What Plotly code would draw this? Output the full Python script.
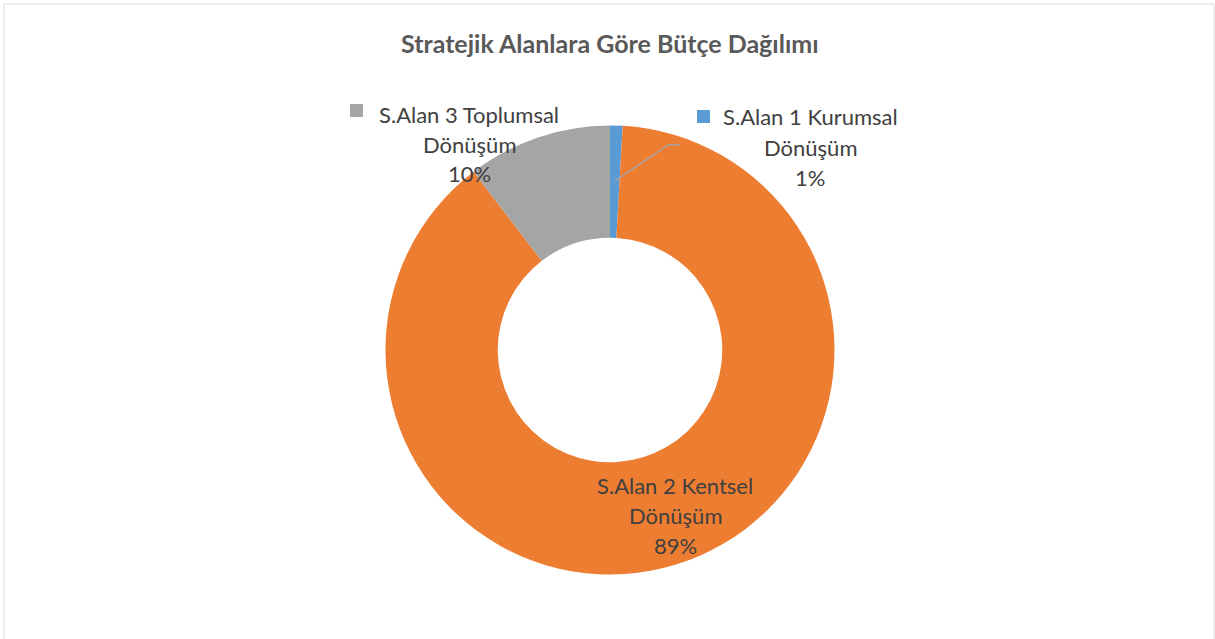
import plotly.graph_objects as go

W, H = 1215, 639

title = "Stratejik Alanlara Göre Bütçe Dağılımı"
categories = ["S.Alan 1 Kurumsal Dönüşüm", "S.Alan 2 Kentsel Dönüşüm", "S.Alan 3 Toplumsal Dönüşüm"]
label_line1 = ["S.Alan 1 Kurumsal", "S.Alan 2 Kentsel", "S.Alan 3 Toplumsal"]
label_line2 = ["Dönüşüm", "Dönüşüm", "Dönüşüm"]
values = [0.9, 88.7, 10.4]
colors = ["#5B9BD5", "#ED7D31", "#A5A5A5"]

# label layout (pixel positions of text blocks)
label_cx = [810, 675, 469]
label_y0 = [117, 485, 114]
line_gap = 30

cx, cy, r = 610, 350, 224.5

def px(x):
    return x / W

def py(y):
    return 1 - y / H

fig = go.Figure()
fig.add_trace(go.Pie(
    labels=categories,
    values=values,
    hole=0.5,
    sort=False,
    direction="clockwise",
    rotation=0,
    marker=dict(colors=colors, line=dict(color="white", width=0)),
    textinfo="none",
    hoverinfo="label+percent",
    showlegend=False,
    domain=dict(x=[px(cx - r), px(cx + r)], y=[py(cy + r), py(cy - r)]),
))

total = sum(values)
font = dict(family="Lato, Open Sans, sans-serif", size=22, color="#404040")
annotations = []
shapes = []
for i in range(len(values)):
    pct = f"{round(values[i] / total * 100)}%"
    lines = [label_line1[i], label_line2[i], pct]
    for j, t in enumerate(lines):
        annotations.append(dict(
            x=px(label_cx[i]), y=py(label_y0[i] + j * line_gap),
            xref="paper", yref="paper", text=t, showarrow=False,
            xanchor="center", yanchor="middle", font=font,
        ))

# legend keys next to outside labels
shapes.append(dict(type="rect", xref="paper", yref="paper",
                   x0=px(697), x1=px(710), y0=py(123), y1=py(110),
                   fillcolor=colors[0], line=dict(width=0)))
shapes.append(dict(type="rect", xref="paper", yref="paper",
                   x0=px(350), x1=px(363), y0=py(117), y1=py(104),
                   fillcolor=colors[2], line=dict(width=0)))
# leader line for small slice
shapes.append(dict(type="path", xref="paper", yref="paper",
                   path=f"M {px(615)} {py(181)} L {px(668)} {py(145)} L {px(680)} {py(145)}",
                   line=dict(color="#A5A5A5", width=1.5)))
# chart border
shapes.append(dict(type="rect", xref="paper", yref="paper",
                   x0=px(4), x1=px(1214), y0=py(700), y1=py(4),
                   line=dict(color="#D9D9D9", width=1), fillcolor="rgba(0,0,0,0)"))

annotations.append(dict(
    x=px(610), y=py(43), xref="paper", yref="paper", text=f"<b>{title}</b>",
    showarrow=False, xanchor="center", yanchor="middle",
    font=dict(family="Lato, Open Sans, sans-serif", size=25, color="#595959"),
))

fig.update_layout(
    width=W, height=H,
    margin=dict(l=0, r=0, t=0, b=0),
    paper_bgcolor="white", plot_bgcolor="white",
    annotations=annotations, shapes=shapes,
)

fig.write_html("out.html", config={"displayModeBar": False},
               post_script="document.body.style.margin='0';document.body.style.padding='0';")
